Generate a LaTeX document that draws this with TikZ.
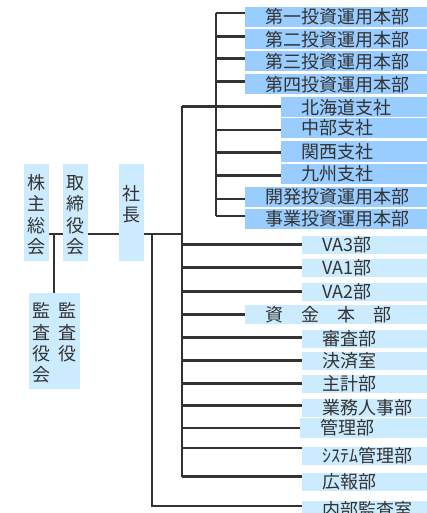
\documentclass[tikz,border=0pt]{standalone}
\usepackage{fontspec}
\usepackage{xcolor}
\usepackage{tikz}
\newfontfamily\jp{Noto Sans CJK JP}
\definecolor{honbuc}{HTML}{99CCFF}
\definecolor{bumonc}{HTML}{CCEBFF}
\definecolor{sen}{HTML}{333333}

\begin{document}
\begin{tikzpicture}[x=1pt, y=-1pt,
		moji/.style={text=sen, font=\jp\fontsize{18}{21}\selectfont},
		honbu/.style={moji, fill=honbuc, anchor=west, minimum height=20, inner xsep=20, inner ysep=0, text width=180, align=left},
		bumon/.style={honbu, fill=bumonc, minimum height=18},
		kaigi/.style={moji, fill=bumonc, minimum width=25, minimum height=97, inner sep=0},
		kei/.style={draw=sen, line width=2.2pt}]
		\clip (0,0) rectangle (427,513);

		\node [kaigi] (kabunushi) at (36.5, 212.5) {\begin{tabular}{@{}c@{}}\rule{0pt}{24pt}株\\主\\総\\会\end{tabular}};
		\node [kaigi] (torishimari) at (75.5, 212.5) {\begin{tabular}{@{}c@{}}\rule{0pt}{24pt}取\\締\\役\\会\end{tabular}};
		\node [kaigi] (shacho) at (131.5, 212.5) {\begin{tabular}{@{}c@{}}\rule{0pt}{24pt}社\\長\\ \\ \end{tabular}};
		\node [kaigi, minimum width=51, minimum height=96] (kansayaku) at (54.5, 341) {\begin{tabular}{@{}c@{\hspace{8pt}}c@{}}\rule{0pt}{24pt}監&監\\査&査\\役&役\\会&\end{tabular}};

		\node [honbu] (ichi) at (245, 17) {第一投資運用本部};
		\node [honbu] (ni) at (245, 39.5) {第二投資運用本部};
		\node [honbu] (san) at (245, 61.5) {第三投資運用本部};
		\node [honbu] (yon) at (245, 84.5) {第四投資運用本部};
		\node [honbu] (hokkaido) at (281, 107.5) {北海道支社};
		\node [honbu] (chubu) at (281, 128) {中部支社};
		\node [honbu] (kansai) at (281, 151.5) {関西支社};
		\node [honbu] (kyushu) at (281, 173.5) {九州支社};
		\node [honbu] (kaihatsu) at (245, 197) {開発投資運用本部};
		\node [honbu] (jigyo) at (245, 219) {事業投資運用本部};

		\node [bumon] (va3) at (302, 244.5) {VA3部};
		\node [bumon] (va1) at (302, 267.5) {VA1部};
		\node [bumon] (va2) at (302, 291.5) {VA2部};
		\node [bumon, minimum height=19] (shikin) at (245, 314.5) {資　金　本　部};
		\node [bumon] (shinsa) at (302, 338.5) {審査部};
		\node [bumon] (kessai) at (302, 360.5) {決済室};
		\node [bumon] (shukei) at (302, 383.5) {主計部};
		\node [bumon] (gyomu) at (302, 407.5) {業務人事部};
		\node [bumon, minimum height=20] (kanri) at (300, 428) {管理部};
		\node [bumon] (system) at (302, 456) {ｼｽﾃﾑ管理部};
		\node [bumon] (koho) at (302, 481.5) {広報部};
		\node [bumon] (naibu) at (302, 510) {内部監査室};

		% trunk points
		\coordinate (jiku) at (182, 234);
		\coordinate (eda) at (216, 0);
		\coordinate (kansa) at (54, 234);
		\coordinate (kansashitsu) at (152, 234);

		\draw [kei] (kabunushi.east |- jiku) -- (torishimari.west |- jiku);
		\draw [kei] (torishimari.east |- jiku) -- (shacho.west |- jiku);
		\draw [kei] (shacho.east |- jiku) -- (jiku);
		\draw [kei] (kansa) -- (kansayaku.north -| kansa);

		\foreach \n/\d in {ichi/4, ni/3, san/3, yon/3, hokkaido/1, chubu/-2, kansai/-1, kyushu/-2, kaihatsu/-2, jigyo/3}
			\coordinate (\n-c) at ([yshift=\d]\n.west);
		\foreach \n/\d in {va3/0, va1/0, va2/0, shikin/0, shinsa/1, kessai/0, shukei/0, gyomu/2, kanri/0, system/8, koho/5, naibu/4}
			\coordinate (\n-c) at ([yshift=\d]\n.west);

		\draw [kei] (eda |- ichi-c) -- (eda |- jigyo-c);
		\foreach \n in {ichi, ni, san, yon, chubu, kansai, kyushu, kaihatsu, jigyo}
			\draw [kei] (eda |- \n-c) -- (\n-c);

		\draw [kei] (jiku |- hokkaido-c) -- (jiku |- koho-c);
		\draw [kei] (jiku |- hokkaido-c) -- (hokkaido-c);
		\foreach \n in {va3, va1, va2, shikin, shinsa, kessai, shukei, gyomu, kanri, system, koho}
			\draw [kei] (jiku |- \n-c) -- (\n-c);

		\draw [kei] (kansashitsu) -- (kansashitsu |- naibu-c) -- (naibu-c);
	\end{tikzpicture}
\end{document}
